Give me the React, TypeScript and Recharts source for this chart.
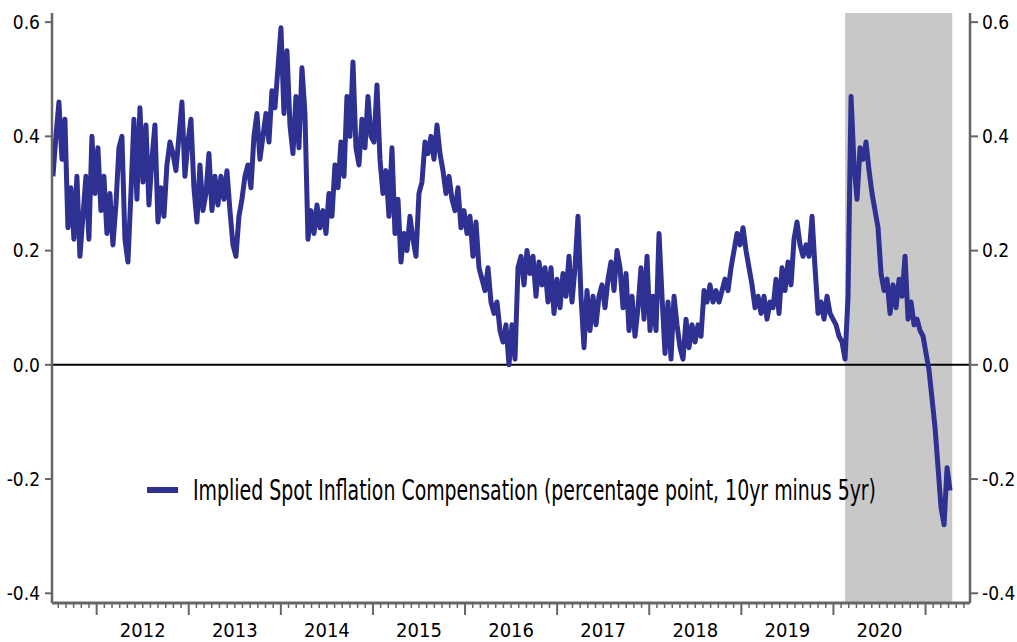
import {
  LineChart,
  Line,
  XAxis,
  YAxis,
  ReferenceArea,
  ReferenceLine,
  Legend,
} from "recharts";

const FONT = "'Liberation Sans Narrow', 'DejaVu Sans Condensed', sans-serif";
const LINE_COLOR = "#2e3191";
const AXIS_COLOR = "#666666";

// samples are roughly 12 days apart, starting mid-July 2011
const START_YEAR = 2011.525;
const STEP_YEARS = 0.03258;

const values2011to2014 = [
  0.33, 0.4, 0.46, 0.36, 0.43, 0.24, 0.31, 0.22, 0.33, 0.19,
  0.26, 0.33, 0.22, 0.4, 0.3, 0.38, 0.27, 0.33, 0.23, 0.3,
  0.21, 0.28, 0.38, 0.4, 0.22, 0.18, 0.3, 0.43, 0.29, 0.45,
  0.32, 0.42, 0.28, 0.36, 0.42, 0.25, 0.31, 0.26, 0.35, 0.39,
  0.37, 0.34, 0.4, 0.46, 0.33, 0.39, 0.43, 0.31, 0.25, 0.35,
  0.27, 0.3, 0.37, 0.27, 0.33, 0.28, 0.33, 0.29, 0.34, 0.27,
  0.21, 0.19, 0.26, 0.29, 0.33, 0.35, 0.31, 0.4, 0.44, 0.36,
  0.4, 0.44, 0.39, 0.48, 0.45, 0.52, 0.59, 0.44, 0.55, 0.42,
];

const values2014to2016 = [
  0.37, 0.47, 0.38, 0.52, 0.44, 0.22, 0.27, 0.23, 0.28, 0.24,
  0.27, 0.23, 0.3, 0.26, 0.35, 0.31, 0.39, 0.33, 0.47, 0.4,
  0.53, 0.38, 0.35, 0.43, 0.38, 0.47, 0.4, 0.39, 0.49, 0.36,
  0.3, 0.34, 0.26, 0.38, 0.23, 0.29, 0.18, 0.23, 0.2, 0.26,
  0.22, 0.19, 0.3, 0.32, 0.39, 0.37, 0.4, 0.36, 0.42, 0.37,
  0.34, 0.3, 0.33, 0.29, 0.27, 0.31, 0.24, 0.27, 0.23, 0.26,
  0.19, 0.25, 0.17, 0.15, 0.13, 0.17, 0.11, 0.09, 0.11, 0.06,
  0.04, 0.07, 0.0, 0.07, 0.01, 0.17, 0.19, 0.14, 0.2, 0.16,
];

const values2016to2019 = [
  0.19, 0.12, 0.18, 0.14, 0.17, 0.11, 0.17, 0.09, 0.15, 0.1,
  0.16, 0.12, 0.19, 0.11, 0.17, 0.26, 0.12, 0.03, 0.13, 0.06,
  0.12, 0.07, 0.12, 0.14, 0.1, 0.15, 0.18, 0.13, 0.2, 0.17,
  0.1, 0.16, 0.06, 0.12, 0.05, 0.1, 0.17, 0.08, 0.19, 0.06,
  0.12, 0.06, 0.23, 0.12, 0.02, 0.11, 0.01, 0.12, 0.07, 0.03,
  0.01, 0.08, 0.03, 0.07, 0.04, 0.07, 0.05, 0.13, 0.11, 0.14,
  0.11, 0.13, 0.11, 0.13, 0.15, 0.13, 0.17, 0.2, 0.23, 0.21,
  0.24, 0.2, 0.17, 0.14, 0.1, 0.12, 0.09, 0.12, 0.08, 0.11,
];

const values2019to2021 = [
  0.1, 0.15, 0.09, 0.17, 0.13, 0.18, 0.14, 0.22, 0.25, 0.21,
  0.19, 0.21, 0.19, 0.26, 0.17, 0.09, 0.11, 0.08, 0.12, 0.09,
  0.08, 0.07, 0.05, 0.04, 0.01, 0.12, 0.47, 0.35, 0.29, 0.38,
  0.36, 0.39, 0.34, 0.3, 0.27, 0.24, 0.16, 0.13, 0.15, 0.09,
  0.14, 0.1, 0.15, 0.12, 0.19, 0.08, 0.11, 0.07, 0.08, 0.06,
  0.05, 0.02, -0.01, -0.06, -0.11, -0.18, -0.25, -0.28, -0.18, -0.22,
];

const yearLabels = [2012, 2013, 2014, 2015, 2016, 2017, 2018, 2019, 2020];
const yTicks = [-0.4, -0.2, 0, 0.2, 0.4, 0.6];
const shadeFrom = 2020.127;
const shadeTo = 2021.29;
const xDomain = [2011.515, 2021.483];
const yDomain = [-0.417, 0.616];

const legendLabel =
  "Implied Spot Inflation Compensation (percentage point, 10yr minus 5yr)";

const allValues = [
  ...values2011to2014,
  ...values2014to2016,
  ...values2016to2019,
  ...values2019to2021,
];
const data = allValues.map((v, i) => ({ t: START_YEAR + i * STEP_YEARS, v }));

// one tick per month, long ones at the start of each year
const monthTicks: number[] = [];
for (let yr = 2011; yr <= 2021; yr++) {
  for (let m = 0; m < 12; m++) {
    const t = yr + m / 12;
    if (t >= xDomain[0] && t <= xDomain[1]) monthTicks.push(t);
  }
}

function MonthTick(props: any) {
  const { x, y, payload } = props;
  const t = payload.value;
  const yr = Math.floor(t + 1e-6);
  const m = Math.round((t - yr) * 12);
  const major = m === 0;
  return (
    <g>
      <line
        x1={x}
        y1={y}
        x2={x}
        y2={y + (major ? 12 : 5)}
        stroke={AXIS_COLOR}
        strokeWidth={major ? 2 : 1.5}
      />
      {m === 6 && yearLabels.includes(yr) && (
        <text
          x={x}
          y={y + 34}
          textAnchor="middle"
          fontSize={20}
          fontFamily={FONT}
          fill="#000"
        >
          {yr}
        </text>
      )}
    </g>
  );
}

function LegendBox() {
  return (
    <svg width={780} height={44}>
      <line x1={7} y1={20} x2={38} y2={20} stroke={LINE_COLOR} strokeWidth={6} />
      <text
        x={53}
        y={30}
        fontSize={28}
        fontFamily={FONT}
        fill="#000"
        textLength={683}
        lengthAdjust="spacingAndGlyphs"
      >
        {legendLabel}
      </text>
    </svg>
  );
}

export default function App() {
  const fmt = (v: number) => v.toFixed(1);
  return (
    <div style={{ position: "absolute", left: 0, top: 0, width: 1017, height: 642, background: "#fff" }}>
      <LineChart
        width={1017}
        height={642}
        data={data}
        margin={{ top: 13, right: 0, bottom: 0, left: 0 }}
      >
        <XAxis
          dataKey="t"
          type="number"
          domain={xDomain}
          allowDataOverflow
          ticks={monthTicks}
          interval={0}
          height={39}
          tickSize={0}
          tickMargin={0}
          tickLine={false}
          axisLine={{ stroke: AXIS_COLOR, strokeWidth: 3 }}
          tick={(p: any) => <MonthTick {...p} />}
        />
        <YAxis
          yAxisId="left"
          domain={yDomain}
          ticks={yTicks}
          allowDataOverflow
          width={52}
          tickSize={7}
          tickMargin={5}
          tickFormatter={fmt}
          axisLine={{ stroke: AXIS_COLOR, strokeWidth: 2.5 }}
          tickLine={{ stroke: AXIS_COLOR, strokeWidth: 2 }}
          tick={{ fill: "#000", fontSize: 19, fontFamily: FONT }}
        />
        <YAxis
          yAxisId="right"
          orientation="right"
          domain={yDomain}
          ticks={yTicks}
          allowDataOverflow
          width={47}
          tickSize={8}
          tickMargin={4}
          tickFormatter={fmt}
          axisLine={{ stroke: AXIS_COLOR, strokeWidth: 2.5 }}
          tickLine={{ stroke: AXIS_COLOR, strokeWidth: 2 }}
          tick={{ fill: "#000", fontSize: 19, fontFamily: FONT }}
        />
        <ReferenceArea
          yAxisId="left"
          x1={shadeFrom}
          x2={shadeTo}
          fill="#c8c8c8"
          fillOpacity={1}
          stroke="none"
        />
        <ReferenceLine yAxisId="left" y={0} stroke="#000" strokeWidth={2} />
        <Line
          yAxisId="left"
          dataKey="v"
          type="linear"
          stroke={LINE_COLOR}
          strokeWidth={5}
          strokeLinejoin="round"
          dot={false}
          isAnimationActive={false}
        />
        <Legend
          layout="horizontal"
          verticalAlign="middle"
          content={() => <LegendBox />}
          wrapperStyle={{ position: "absolute", left: 140, top: 470, width: 780, height: 44 }}
        />
      </LineChart>
    </div>
  );
}
